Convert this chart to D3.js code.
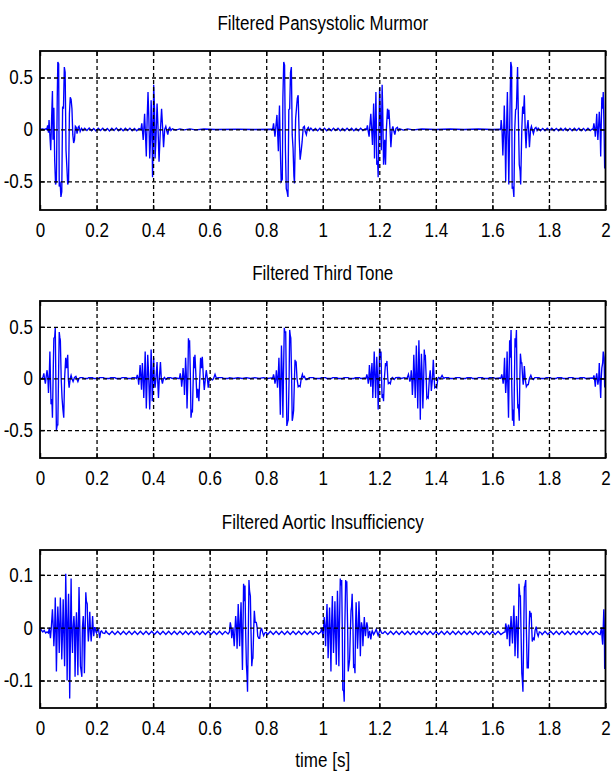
<!DOCTYPE html>
<html>
<head>
<meta charset="utf-8">
<script src="https://cdn.jsdelivr.net/npm/d3@7"></script>
<style>
  body { margin: 0; background: #fff; }
  svg { display: block; font-family: "Liberation Sans", Arial, sans-serif; }
</style>
</head>
<body>
<svg width="612" height="778"></svg>
<script>
// подписи и оси
const titles = ["Filtered Pansystolic Murmor", "Filtered Third Tone", "Filtered Aortic Insufficiency"];
const xLabel = "time [s]";
const xTicks = [0, 0.2, 0.4, 0.6, 0.8, 1, 1.2, 1.4, 1.6, 1.8, 2];
const xTickLabels = ["0", "0.2", "0.4", "0.6", "0.8", "1", "1.2", "1.4", "1.6", "1.8", "2"];
const yTicksBig = [-0.5, 0, 0.5];
const yTickLabelsBig = ["-0.5", "0", "0.5"];
const yTicksSmall = [-0.1, 0, 0.1];
const yTickLabelsSmall = ["-0.1", "0", "0.1"];
const yDomains = [[-0.775, 0.755], [-0.77, 0.75], [-0.152, 0.147]];

// сигнал 1: систолический шум (время, амплитуда)
const murmurBursts = [
  [0,0],[0.008,0.004],[0.016,0.0],[0.021,0.006],
  [0.024,0],[0.027,0.04],[0.030,-0.03],[0.032,0.09],[0.035,-0.06],[0.038,-0.20],[0.041,0.10],[0.044,0.37],[0.046,-0.10],[0.049,0.21],
  [0.052,-0.30],[0.055,-0.53],[0.058,-0.50],[0.061,0.30],[0.063,0.65],[0.066,0.63],[0.068,-0.55],[0.071,-0.50],[0.074,-0.65],[0.077,-0.60],
  [0.080,0.22],[0.083,0.20],[0.086,0.60],[0.089,0.55],[0.092,-0.20],[0.095,-0.36],[0.098,-0.53],[0.101,-0.50],[0.104,0.15],[0.107,0.31],
  [0.110,0.29],[0.113,0.20],[0.116,-0.05],[0.119,-0.13],[0.122,-0.10],[0.125,0.03],[0.128,0.02],[0.131,-0.04],[0.135,0.02],[0.138,0.03],
  [0.142,-0.02],[0.147,0.01],[0.152,-0.01],
  [0.357,0.0],[0.360,0.06],[0.363,-0.03],[0.365,-0.10],[0.368,0.05],[0.370,0.15],[0.373,-0.05],[0.376,-0.26],[0.379,0.10],[0.382,0.36],
  [0.385,0.10],[0.388,-0.28],[0.391,-0.10],[0.393,0.28],[0.396,0.05],[0.398,-0.46],[0.400,-0.20],[0.402,0.43],[0.405,0.20],[0.407,-0.28],
  [0.410,-0.10],[0.414,0.25],[0.417,0.05],[0.421,-0.31],[0.425,-0.05],[0.430,0.20],[0.433,0.05],[0.437,-0.17],[0.441,0.0],[0.445,0.03],
  [0.449,-0.02],[0.452,-0.05],[0.456,0.01],[0.459,0.02],[0.463,-0.01],
  [0.823,0.0],[0.826,0.06],[0.829,-0.02],[0.831,-0.07],[0.835,0.05],[0.838,0.14],[0.840,0.0],[0.843,-0.21],[0.845,0.05],[0.847,0.23],
  [0.850,-0.20],[0.853,-0.50],[0.857,-0.48],[0.859,0.30],[0.862,0.65],[0.865,0.62],[0.868,-0.20],[0.871,-0.57],[0.874,-0.60],[0.877,-0.65],
  [0.880,0.19],[0.883,0.20],[0.886,0.55],[0.889,0.60],[0.892,-0.05],[0.895,-0.18],[0.898,-0.45],[0.900,-0.52],[0.904,0.10],[0.907,0.20],
  [0.910,0.30],[0.913,0.33],[0.917,-0.10],[0.920,-0.29],[0.924,-0.20],[0.927,-0.12],[0.931,0.02],[0.935,0.03],[0.938,-0.02],[0.942,-0.05],
  [0.946,0.01],[0.949,0.02],[0.953,-0.01],
  [1.155,0.0],[1.158,0.04],[1.161,-0.02],[1.164,-0.07],[1.167,0.05],[1.170,0.15],[1.173,0.0],[1.176,-0.15],[1.178,0.05],[1.180,0.25],
  [1.182,0.0],[1.183,-0.28],[1.186,0.05],[1.188,0.36],[1.190,0.0],[1.191,-0.34],[1.194,-0.30],[1.196,-0.46],[1.199,0.05],[1.201,0.40],
  [1.204,0.10],[1.207,-0.20],[1.210,0.43],[1.212,0.20],[1.215,-0.34],[1.219,-0.10],[1.222,-0.34],[1.225,0.0],[1.229,0.20],[1.232,0.10],
  [1.234,0.19],[1.238,0.0],[1.241,-0.17],[1.245,0.0],[1.248,0.03],[1.252,-0.02],[1.255,-0.05],[1.259,0.01],[1.264,0.02],[1.268,-0.01],
  [1.629,0.0],[1.631,0.09],[1.634,0.0],[1.637,-0.25],[1.640,0.0],[1.642,0.23],[1.645,-0.10],[1.647,-0.50],[1.650,0.0],[1.653,0.36],
  [1.655,0.0],[1.658,-0.53],[1.661,0.0],[1.665,0.65],[1.668,0.60],[1.670,-0.57],[1.673,-0.55],[1.676,-0.65],[1.679,0.0],[1.682,0.19],
  [1.685,0.20],[1.689,0.60],[1.692,0.10],[1.695,-0.34],[1.698,-0.40],[1.700,-0.53],[1.704,0.0],[1.707,0.22],[1.710,0.15],[1.713,0.33],
  [1.716,0.0],[1.719,-0.18],[1.722,0.0],[1.726,0.09],[1.728,0.0],[1.731,-0.17],[1.735,0.0],[1.738,0.03],[1.742,-0.01],[1.745,-0.04],
  [1.750,0.01],[1.754,0.02],[1.758,-0.01],
  [1.956,0.0],[1.959,0.06],[1.962,0.0],[1.964,-0.07],[1.967,0.05],[1.969,0.15],[1.971,0.0],[1.973,-0.10],[1.976,0.05],[1.978,0.17],
  [1.981,0.0],[1.983,-0.26],[1.985,0.05],[1.987,0.31],[1.990,0.2],[1.992,0.36],[1.995,0.0],[1.997,-0.37],[2.0,-0.37]
];
const murmurBaseline = [
  [0.158,0.012],[0.166,-0.01],[0.174,0.014],[0.182,-0.012],[0.19,0.01],[0.198,-0.014],[0.206,0.012],[0.214,-0.01],[0.222,0.012],
  [0.23,-0.012],[0.238,0.01],[0.246,-0.014],[0.254,0.012],[0.262,-0.01],[0.27,0.014],[0.278,-0.012],[0.286,0.01],[0.294,-0.012],
  [0.302,0.012],[0.31,-0.01],[0.318,0.012],[0.326,-0.012],[0.334,0.01],[0.342,-0.012],[0.35,0.008],
  [0.468,0.006],[0.48,-0.006],[0.495,0.006],[0.51,-0.004],[0.53,0.006],[0.55,-0.004],[0.58,0.004],[0.62,0.0],[0.7,0.002],[0.76,0.0],[0.82,0.002],
  [0.958,0.012],[0.966,-0.012],[0.974,0.01],[0.982,-0.012],[0.99,0.012],[0.998,-0.01],[1.006,0.012],[1.014,-0.012],[1.022,0.01],
  [1.03,-0.012],[1.038,0.012],[1.046,-0.01],[1.054,0.012],[1.062,-0.012],[1.07,0.01],[1.078,-0.012],[1.086,0.012],[1.094,-0.01],
  [1.102,0.012],[1.11,-0.012],[1.118,0.01],[1.126,-0.012],[1.134,0.012],[1.142,-0.01],[1.15,0.006],
  [1.272,0.006],[1.285,-0.006],[1.3,0.006],[1.32,-0.004],[1.35,0.004],[1.4,0.0],[1.45,0.004],[1.5,0.0],[1.55,0.004],[1.6,0.0],[1.626,0.002],
  [1.762,0.012],[1.77,-0.012],[1.778,0.01],[1.786,-0.012],[1.794,0.012],[1.802,-0.01],[1.81,0.012],[1.818,-0.012],[1.826,0.01],
  [1.834,-0.012],[1.842,0.012],[1.85,-0.01],[1.858,0.012],[1.866,-0.012],[1.874,0.01],[1.882,-0.012],[1.89,0.012],[1.898,-0.01],
  [1.906,0.012],[1.914,-0.012],[1.922,0.01],[1.93,-0.012],[1.938,0.012],[1.946,-0.01],[1.953,0.004]
];

// сигнал 2: третий тон
const thirdToneBursts = [
  [0,0],[0.008,0.0],[0.011,0.02],
  [0.0136,0.05],[0.016,0.0],[0.019,-0.05],[0.022,0.02],[0.025,0.08],[0.028,0.0],[0.030,-0.14],[0.033,0.05],[0.035,0.26],[0.037,0.0],
  [0.039,-0.25],[0.042,-0.20],[0.044,-0.38],[0.047,0.10],[0.049,0.39],[0.052,0.40],[0.054,0.49],[0.056,0.0],[0.058,-0.50],[0.061,-0.45],
  [0.063,-0.45],[0.066,0.10],[0.068,0.45],[0.070,0.40],[0.072,0.37],[0.075,0.0],[0.078,-0.19],[0.081,-0.30],[0.084,-0.38],[0.087,0.0],
  [0.091,0.20],[0.094,0.10],[0.098,0.23],[0.100,0.0],[0.103,-0.09],[0.107,0.0],[0.110,0.03],[0.113,0.0],[0.117,-0.03],[0.122,0.01],
  [0.127,0.02],[0.131,-0.01],[0.134,-0.03],[0.138,0.0],
  [0.341,0.0],[0.344,0.035],[0.347,0.0],[0.349,-0.06],[0.351,0.0],[0.354,0.13],[0.357,0.0],[0.359,-0.11],[0.361,0.05],[0.362,0.15],
  [0.365,0.0],[0.367,-0.19],[0.370,0.05],[0.372,0.26],[0.374,0.0],[0.376,-0.29],[0.379,0.0],[0.381,0.23],[0.384,0.05],[0.388,-0.30],
  [0.390,-0.10],[0.393,0.28],[0.395,0.1],[0.397,-0.22],[0.400,0.0],[0.402,0.20],[0.404,0.0],[0.407,-0.09],[0.410,0.0],[0.414,0.16],
  [0.416,0.0],[0.419,-0.19],[0.422,0.0],[0.426,0.16],[0.429,0.0],[0.433,-0.05],[0.437,0.0],[0.440,0.01],
  [0.493,0.0],[0.496,0.05],[0.499,0.0],[0.501,-0.08],[0.504,0.0],[0.506,0.10],[0.509,0.0],[0.511,-0.16],[0.513,0.0],[0.515,0.20],
  [0.518,0.0],[0.520,-0.29],[0.523,0.0],[0.525,0.39],[0.527,0.3],[0.529,0.37],[0.532,0.0],[0.534,-0.38],[0.537,-0.30],[0.539,-0.33],
  [0.542,0.0],[0.544,0.21],[0.546,0.1],[0.548,0.23],[0.552,0.0],[0.555,-0.19],[0.558,-0.10],[0.562,-0.22],[0.565,0.0],[0.568,0.20],
  [0.571,0.10],[0.574,0.21],[0.578,0.0],[0.581,-0.11],[0.585,0.0],[0.588,0.08],[0.592,0.0],[0.595,-0.09],[0.599,0.0],[0.602,0.0],
  [0.606,-0.01],[0.610,-0.015],[0.614,0.0],[0.619,0.04],[0.624,0.0],
  [0.823,0.0],[0.826,0.04],[0.829,0.0],[0.831,-0.05],[0.834,0.0],[0.836,0.08],[0.838,0.0],[0.840,-0.09],[0.843,0.05],[0.845,0.20],
  [0.847,0.0],[0.850,-0.35],[0.852,0.0],[0.854,0.32],[0.857,0.0],[0.859,-0.38],[0.861,0.0],[0.864,0.49],[0.866,0.45],[0.869,0.45],
  [0.871,0.0],[0.873,-0.46],[0.876,-0.42],[0.878,-0.40],[0.881,0.0],[0.883,0.47],[0.885,0.42],[0.887,0.39],[0.890,0.0],[0.892,-0.41],
  [0.894,-0.38],[0.897,-0.31],[0.900,0.0],[0.902,0.18],[0.904,0.14],[0.906,0.15],[0.909,0.0],[0.913,-0.08],[0.916,-0.07],[0.920,-0.08],
  [0.924,0.0],[0.928,0.04],[0.931,0.01],[0.935,0.02],[0.940,-0.01],[0.944,-0.01],[0.948,0.0],
  [1.153,0.0],[1.156,0.04],[1.159,0.0],[1.161,-0.05],[1.163,0.0],[1.165,0.13],[1.168,0.0],[1.170,-0.08],[1.172,0.05],[1.174,0.15],
  [1.176,0.0],[1.177,-0.19],[1.180,0.05],[1.182,0.26],[1.185,0.0],[1.187,-0.19],[1.189,0.0],[1.191,0.21],[1.194,0.0],[1.196,-0.30],
  [1.199,0.0],[1.201,0.29],[1.203,0.2],[1.206,0.26],[1.208,0.0],[1.210,-0.19],[1.213,-0.15],[1.215,-0.22],[1.218,0.0],[1.222,0.15],
  [1.225,0.12],[1.227,0.17],[1.230,0.0],[1.232,-0.05],[1.236,-0.04],[1.239,-0.05],[1.243,0.0],[1.246,0.01],[1.250,0.0],[1.253,-0.01],
  [1.303,0.04],[1.306,0.0],[1.308,-0.03],[1.311,0.0],[1.313,0.08],[1.315,0.0],[1.317,-0.16],[1.320,0.0],[1.322,0.23],[1.325,0.0],
  [1.327,-0.19],[1.329,0.0],[1.331,0.32],[1.334,0.0],[1.336,-0.29],[1.338,0.0],[1.340,0.37],[1.343,0.0],[1.345,-0.40],[1.347,0.0],
  [1.349,0.24],[1.352,0.0],[1.354,-0.29],[1.357,0.0],[1.359,0.28],[1.361,0.2],[1.363,0.21],[1.366,0.0],[1.368,-0.19],[1.370,-0.18],
  [1.373,-0.19],[1.377,0.0],[1.380,0.08],[1.382,0.0],[1.384,-0.12],[1.388,0.0],[1.391,0.18],[1.394,0.0],[1.396,-0.09],[1.400,-0.08],
  [1.403,-0.09],[1.407,0.0],[1.410,0.01],[1.416,0.0],[1.422,0.03],[1.428,0.0],
  [1.630,0.0],[1.633,0.04],[1.636,0.0],[1.638,-0.05],[1.640,0.0],[1.643,0.20],[1.645,0.0],[1.647,-0.14],[1.650,0.0],[1.652,0.26],
  [1.654,0.0],[1.657,-0.38],[1.659,0.0],[1.661,0.37],[1.663,0.2],[1.666,0.47],[1.668,0.0],[1.671,-0.41],[1.673,-0.30],[1.676,-0.46],
  [1.678,0.0],[1.680,0.39],[1.682,0.30],[1.685,0.47],[1.687,0.0],[1.690,-0.29],[1.692,-0.25],[1.695,-0.41],[1.697,0.0],[1.699,0.24],
  [1.702,0.15],[1.704,0.15],[1.707,0.0],[1.709,-0.06],[1.711,0.0],[1.713,0.12],[1.716,0.0],[1.720,-0.08],[1.724,-0.06],[1.727,-0.06],
  [1.731,0.0],[1.736,0.03],[1.740,0.0],[1.745,-0.01],
  [1.956,0.0],[1.959,0.03],[1.961,0.0],[1.964,-0.08],[1.966,0.0],[1.969,0.05],[1.971,0.0],[1.973,-0.06],[1.976,0.0],[1.978,0.15],
  [1.980,0.0],[1.983,-0.19],[1.985,0.0],[1.987,0.10],[1.990,0.15],[1.992,0.26],[1.995,0.2],[1.997,-0.08],[2.0,-0.08]
];
const thirdToneBaseline = [
  [0.142,0.008],[0.152,0.008],[0.156,0.0],[0.168,0.0],[0.172,0.008],[0.186,0.008],[0.19,0.0],[0.205,0.0],[0.21,0.008],[0.225,0.008],
  [0.23,0.0],[0.245,0.0],[0.25,0.008],[0.265,0.008],[0.27,0.0],[0.285,0.0],[0.29,0.008],[0.305,0.008],[0.31,0.0],[0.322,0.0],
  [0.326,0.008],[0.336,0.008],
  [0.445,-0.01],[0.452,0.008],[0.462,0.008],[0.468,0.0],[0.478,0.008],[0.488,0.0],
  [0.63,0.008],[0.645,0.008],[0.65,0.0],[0.665,0.0],[0.67,0.008],[0.685,0.0],[0.7,0.008],[0.715,0.0],[0.73,0.008],[0.745,0.0],
  [0.76,0.008],[0.775,0.0],[0.79,0.008],[0.805,0.0],[0.818,0.006],
  [0.953,0.008],[0.968,0.008],[0.972,0.0],[0.99,0.0],[0.995,0.008],[1.01,0.008],[1.015,0.0],[1.03,0.0],[1.035,0.008],[1.05,0.008],
  [1.055,0.0],[1.07,0.0],[1.075,0.008],[1.09,0.008],[1.095,0.0],[1.11,0.0],[1.115,0.008],[1.13,0.008],[1.135,0.0],[1.148,0.004],
  [1.258,0.008],[1.27,0.01],[1.278,0.0],[1.288,0.008],[1.298,0.0],
  [1.432,0.008],[1.445,0.008],[1.45,0.0],[1.465,0.0],[1.47,0.008],[1.485,0.008],[1.49,0.0],[1.505,0.0],[1.51,0.008],[1.525,0.008],
  [1.53,0.0],[1.545,0.0],[1.55,0.008],[1.565,0.008],[1.57,0.0],[1.585,0.0],[1.59,0.008],[1.605,0.008],[1.61,0.0],[1.626,0.004],
  [1.75,0.008],[1.765,0.008],[1.77,0.0],[1.785,0.0],[1.79,0.008],[1.805,0.008],[1.81,0.0],[1.825,0.0],[1.83,0.008],[1.845,0.008],
  [1.85,0.0],[1.865,0.0],[1.87,0.008],[1.885,0.008],[1.89,0.0],[1.905,0.0],[1.91,0.008],[1.925,0.008],[1.93,0.0],[1.952,0.004]
];

// сигнал 3: аортальная недостаточность
const aorticBursts = [
  [0,0],[0.005,-0.005],[0.01,-0.008],[0.015,-0.005],[0.02,-0.01],[0.025,-0.008],[0.03,-0.01],[0.033,0.0],
  [0.037,-0.02],[0.040,0.0],[0.044,0.035],[0.047,0.0],[0.049,-0.035],[0.052,0.0],[0.054,0.057],[0.056,0.0],[0.058,-0.083],[0.061,0.0],
  [0.063,0.04],[0.066,0.0],[0.068,-0.048],[0.070,0.0],[0.072,0.057],[0.075,0.0],[0.077,-0.06],[0.080,0.0],[0.082,0.054],[0.084,0.0],
  [0.087,-0.073],[0.089,0.0],[0.091,0.102],[0.094,0.0],[0.096,-0.10],[0.098,0.0],[0.101,0.064],[0.103,0.0],[0.105,-0.134],[0.108,0.0],
  [0.110,0.093],[0.112,0.0],[0.115,-0.048],[0.117,0.0],[0.120,0.022],[0.122,0.0],[0.124,-0.093],[0.127,0.0],[0.129,0.029],[0.131,0.0],
  [0.134,-0.09],[0.136,0.0],[0.138,0.077],[0.141,0.0],[0.143,-0.073],[0.145,-0.08],[0.148,-0.093],[0.150,0.0],[0.153,0.022],[0.155,0.0],
  [0.157,-0.086],[0.160,0.0],[0.162,0.067],[0.164,0.05],[0.167,0.045],[0.169,0.0],[0.171,-0.026],[0.174,0.0],[0.176,0.03],[0.178,0.0],
  [0.181,-0.026],[0.184,0.0],[0.186,0.022],[0.188,0.0],[0.190,-0.016],[0.193,0.0],[0.195,0.0],[0.198,-0.008],[0.200,-0.01],[0.204,-0.004],
  [0.207,-0.003],[0.211,-0.02],[0.215,-0.007],[0.218,-0.006],[0.222,-0.01],[0.229,-0.011],[0.233,-0.006],[0.237,-0.009],
  [0.670,-0.008],[0.673,0.01],[0.676,0.0],[0.678,-0.02],[0.681,-0.005],[0.683,-0.003],[0.685,-0.02],[0.687,-0.035],[0.690,0.0],[0.692,0.022],
  [0.695,0.0],[0.697,-0.04],[0.699,0.0],[0.701,0.045],[0.704,0.0],[0.706,-0.035],[0.708,0.0],[0.711,0.048],[0.713,0.0],[0.716,-0.08],
  [0.718,0.0],[0.720,0.083],[0.723,0.05],[0.725,0.08],[0.727,0.0],[0.730,-0.07],[0.732,-0.09],[0.734,-0.121],[0.737,0.0],[0.739,0.09],
  [0.741,0.07],[0.744,0.06],[0.746,0.0],[0.749,-0.073],[0.751,-0.06],[0.753,-0.058],[0.756,0.0],[0.758,0.032],[0.761,0.01],[0.765,0.01],
  [0.768,0.0],[0.770,-0.016],[0.774,-0.02],[0.777,-0.02],[0.780,-0.005],[0.784,-0.002],[0.788,-0.01],[0.791,-0.015],[0.795,-0.01],[0.800,-0.009],
  [0.993,-0.008],[0.997,0.0],[1.001,-0.02],[1.003,0.0],[1.005,0.02],[1.008,0.0],[1.010,-0.035],[1.012,0.0],[1.015,0.045],[1.017,0.0],
  [1.019,-0.058],[1.022,0.0],[1.024,0.038],[1.026,0.0],[1.029,-0.083],[1.031,0.0],[1.034,0.06],[1.036,0.0],[1.038,-0.048],[1.041,0.0],
  [1.043,0.05],[1.045,0.0],[1.048,-0.07],[1.050,0.0],[1.052,0.07],[1.055,0.0],[1.057,-0.073],[1.059,0.0],[1.062,0.093],[1.064,0.08],
  [1.067,0.09],[1.069,0.0],[1.071,-0.118],[1.074,-0.12],[1.076,-0.14],[1.078,0.0],[1.081,0.09],[1.083,0.08],[1.085,0.088],[1.088,0.0],
  [1.090,-0.083],[1.093,-0.07],[1.095,-0.06],[1.098,0.0],[1.100,0.032],[1.102,0.04],[1.104,0.064],[1.107,0.0],[1.109,-0.073],[1.112,-0.07],
  [1.114,-0.086],[1.116,0.0],[1.118,0.048],[1.121,0.0],[1.123,-0.04],[1.126,0.0],[1.128,0.05],[1.131,0.0],[1.133,-0.054],[1.135,-0.01],
  [1.137,0.01],[1.140,0.0],[1.142,-0.035],[1.145,0.0],[1.147,0.02],[1.149,0.0],[1.151,-0.016],[1.154,0.0],[1.156,0.01],[1.159,0.0],
  [1.161,-0.02],[1.164,-0.01],[1.166,-0.006],[1.168,-0.015],[1.170,-0.022],[1.173,-0.01],[1.175,-0.006],[1.178,-0.01],[1.180,-0.013],
  [1.185,-0.008],[1.189,-0.003],[1.193,-0.01],[1.196,-0.015],[1.200,-0.008],[1.203,-0.003],[1.208,-0.01],[1.213,-0.011],
  [1.645,-0.008],[1.647,0.008],[1.650,0.0],[1.652,-0.022],[1.655,0.0],[1.657,0.006],[1.659,0.0],[1.661,-0.035],[1.664,0.0],[1.666,0.022],
  [1.668,0.0],[1.671,-0.03],[1.673,0.0],[1.676,0.042],[1.678,0.0],[1.680,-0.054],[1.683,0.0],[1.685,0.022],[1.687,0.0],[1.690,-0.058],
  [1.692,0.0],[1.694,0.083],[1.697,0.06],[1.699,0.06],[1.701,0.0],[1.704,-0.086],[1.706,-0.1],[1.708,-0.121],[1.711,0.0],[1.713,0.077],
  [1.715,0.08],[1.718,0.09],[1.720,0.0],[1.723,-0.077],[1.725,-0.07],[1.727,-0.077],[1.730,0.0],[1.732,0.032],[1.735,0.02],[1.737,0.028],
  [1.739,0.0],[1.741,-0.026],[1.745,-0.02],[1.748,-0.022],[1.751,-0.005],[1.755,0.002],[1.758,-0.01],[1.762,-0.016],[1.766,-0.008],[1.771,-0.009],
  [1.981,-0.013],[1.984,-0.005],[1.986,0.0],[1.988,-0.02],[1.990,-0.032],[1.992,0.0],[1.994,0.035],[1.996,0.0],[1.997,-0.077],[2.0,-0.077]
];
const aorticBaseline = [
  [0.245,-0.013],[0.255,-0.007],[0.265,-0.013],[0.275,-0.007],[0.285,-0.013],[0.295,-0.007],[0.305,-0.013],[0.315,-0.007],[0.325,-0.013],
  [0.335,-0.007],[0.345,-0.013],[0.355,-0.007],[0.365,-0.013],[0.375,-0.007],[0.385,-0.013],[0.395,-0.007],[0.405,-0.013],[0.415,-0.007],
  [0.425,-0.013],[0.435,-0.007],[0.445,-0.013],[0.455,-0.007],[0.465,-0.013],[0.475,-0.007],[0.485,-0.013],[0.495,-0.007],[0.505,-0.013],
  [0.515,-0.007],[0.525,-0.013],[0.535,-0.007],[0.545,-0.013],[0.555,-0.007],[0.565,-0.013],[0.575,-0.007],[0.585,-0.013],[0.595,-0.007],
  [0.605,-0.013],[0.615,-0.007],[0.625,-0.013],[0.635,-0.007],[0.645,-0.013],[0.655,-0.007],[0.665,-0.012],
  [0.805,-0.013],[0.815,-0.007],[0.825,-0.013],[0.835,-0.007],[0.845,-0.013],[0.855,-0.007],[0.865,-0.013],[0.875,-0.007],[0.885,-0.013],
  [0.895,-0.007],[0.905,-0.013],[0.915,-0.007],[0.925,-0.013],[0.935,-0.007],[0.945,-0.013],[0.955,-0.007],[0.965,-0.013],[0.975,-0.007],[0.985,-0.012],
  [1.22,-0.007],[1.23,-0.013],[1.24,-0.007],[1.25,-0.013],[1.26,-0.007],[1.27,-0.013],[1.28,-0.007],[1.29,-0.013],[1.30,-0.007],[1.31,-0.013],
  [1.32,-0.007],[1.33,-0.013],[1.34,-0.007],[1.35,-0.013],[1.36,-0.007],[1.37,-0.013],[1.38,-0.007],[1.39,-0.013],[1.40,-0.007],[1.41,-0.013],
  [1.42,-0.007],[1.43,-0.013],[1.44,-0.007],[1.45,-0.013],[1.46,-0.007],[1.47,-0.013],[1.48,-0.007],[1.49,-0.013],[1.50,-0.007],[1.51,-0.013],
  [1.52,-0.007],[1.53,-0.013],[1.54,-0.007],[1.55,-0.013],[1.56,-0.007],[1.57,-0.013],[1.58,-0.007],[1.59,-0.013],[1.60,-0.007],[1.61,-0.013],
  [1.62,-0.007],[1.63,-0.013],[1.64,-0.009],
  [1.776,-0.013],[1.786,-0.007],[1.796,-0.013],[1.806,-0.007],[1.816,-0.013],[1.826,-0.007],[1.836,-0.013],[1.846,-0.007],[1.856,-0.013],
  [1.866,-0.007],[1.876,-0.013],[1.886,-0.007],[1.896,-0.013],[1.906,-0.007],[1.916,-0.013],[1.926,-0.007],[1.936,-0.013],[1.946,-0.007],
  [1.956,-0.013],[1.966,-0.007],[1.976,-0.012]
];

const svg = d3.select("svg");

// область вывода
const plotLeft = 40, plotRight = 605.5;
const panels = [
  {top: 51, bottom: 210},
  {top: 301, bottom: 458},
  {top: 550, bottom: 708}
];
const squeezeK = 0.85;

// сжатие текста по ширине (узкий шрифт на оригинале)
function squeeze(sel) {
  sel.each(function() {
    const w = this.getComputedTextLength();
    this.setAttribute("textLength", w * squeezeK);
    this.setAttribute("lengthAdjust", "spacingAndGlyphs");
  });
}

const signals = [
  d3.sort(murmurBursts.concat(murmurBaseline), d => d[0]),
  d3.sort(thirdToneBursts.concat(thirdToneBaseline), d => d[0]),
  d3.sort(aorticBursts.concat(aorticBaseline), d => d[0])
];
const yTickSets = [
  [yTicksBig, yTickLabelsBig],
  [yTicksBig, yTickLabelsBig],
  [yTicksSmall, yTickLabelsSmall]
];

panels.forEach((p, i) => {
  const scX = d3.scaleLinear().domain([0, 2]).range([plotLeft, plotRight]);
  const scY = d3.scaleLinear().domain(yDomains[i]).range([p.bottom, p.top]);
  const [yt, ytl] = yTickSets[i];
  const w = plotRight - plotLeft, h = p.bottom - p.top;

  svg.append("clipPath").attr("id", "clip" + i)
    .append("rect").attr("x", plotLeft).attr("y", p.top).attr("width", w).attr("height", h);

  // сигнал
  const line = d3.line().x(d => scX(d[0])).y(d => scY(d[1]));
  svg.append("path")
    .datum(signals[i])
    .attr("clip-path", `url(#clip${i})`)
    .attr("d", line)
    .attr("fill", "none")
    .attr("stroke", "#0000ff")
    .attr("stroke-width", 1.35)
    .attr("stroke-linejoin", "miter");

  // сетка
  const gridX = svg.append("g")
    .attr("transform", `translate(0, ${p.bottom})`)
    .call(d3.axisBottom(scX).tickValues(xTicks.slice(1, -1)).tickSize(-h).tickFormat(""));
  const gridY = svg.append("g")
    .attr("transform", `translate(${plotLeft}, 0)`)
    .call(d3.axisLeft(scY).tickValues(yt).tickSize(-w).tickFormat(""));
  [gridX, gridY].forEach(g => {
    g.select(".domain").remove();
    g.selectAll("line").attr("stroke", "#000").attr("stroke-width", 1.3).attr("stroke-dasharray", "4,3");
  });

  // засечки внутрь со всех сторон
  const tickAxes = [
    [d3.axisBottom(scX).tickValues(xTicks), `translate(0, ${p.bottom})`],
    [d3.axisTop(scX).tickValues(xTicks), `translate(0, ${p.top})`],
    [d3.axisLeft(scY).tickValues(yt), `translate(${plotLeft}, 0)`],
    [d3.axisRight(scY).tickValues(yt), `translate(${plotRight}, 0)`]
  ];
  tickAxes.forEach(([ax, tr]) => {
    const g = svg.append("g").attr("transform", tr).call(ax.tickSize(-5).tickFormat(""));
    g.select(".domain").remove();
    g.selectAll("line").attr("stroke", "#000").attr("stroke-width", 1.4);
  });

  // рамка
  svg.append("rect")
    .attr("x", plotLeft).attr("y", p.top).attr("width", w).attr("height", h)
    .attr("fill", "none").attr("stroke", "#000").attr("stroke-width", 1.8);

  // подписи осей
  const axX = svg.append("g")
    .attr("transform", `translate(0, ${p.bottom})`)
    .call(d3.axisBottom(scX).tickValues(xTicks).tickSize(0).tickPadding(13)
      .tickFormat((d, k) => xTickLabels[k]));
  const axY = svg.append("g")
    .attr("transform", `translate(${plotLeft}, 0)`)
    .call(d3.axisLeft(scY).tickValues(yt).tickSize(0).tickPadding(7)
      .tickFormat((d, k) => ytl[k]));
  [axX, axY].forEach(g => {
    g.select(".domain").remove();
    g.selectAll("text")
      .attr("font-family", "'Liberation Sans', Arial, sans-serif")
      .attr("font-size", 20)
      .attr("fill", "#000")
      .call(squeeze);
  });

  // заголовок
  svg.append("text")
    .attr("x", (plotLeft + plotRight) / 2)
    .attr("y", p.top - 21)
    .attr("text-anchor", "middle")
    .attr("font-size", 20)
    .attr("fill", "#000")
    .text(titles[i])
    .call(squeeze);
});

svg.append("text")
  .attr("x", (plotLeft + plotRight) / 2)
  .attr("y", 767)
  .attr("text-anchor", "middle")
  .attr("font-size", 20)
  .attr("fill", "#000")
  .text(xLabel)
  .call(squeeze);
</script>
</body>
</html>
